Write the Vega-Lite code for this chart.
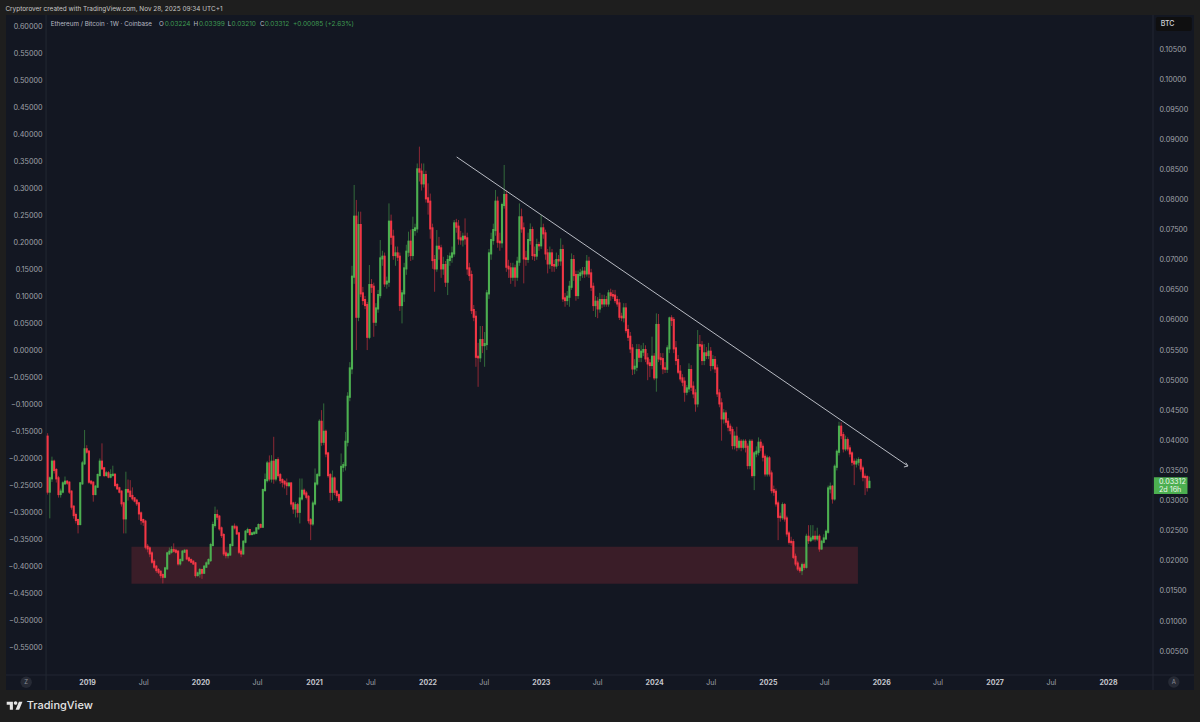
{
  "$schema": "https://vega.github.io/schema/vega-lite/v6.json",
  "autosize": "none",
  "width": 1188,
  "height": 675,
  "padding": {"left": 6, "top": 15, "right": 6, "bottom": 32},
  "background": "#1e1e1e",
  "view": {"fill": "#131722", "stroke": null},
  "config": {"font": "Inter", "text": {"font": "Inter"}},
  "datasets": {
    "candles": [
      {"t":"2018-08-27","o":0.04062,"h":0.0412,"l":0.0310,"c":0.03149},
      {"t":"2018-09-03","o":0.03149,"h":0.0340,"l":0.02705,"c":0.0337},
      {"t":"2018-09-10","o":0.0337,"h":0.0373,"l":0.0331,"c":0.03647},
      {"t":"2018-09-17","o":0.03647,"h":0.0368,"l":0.0345,"c":0.03508},
      {"t":"2018-09-24","o":0.03508,"h":0.0354,"l":0.0330,"c":0.0337},
      {"t":"2018-10-01","o":0.0337,"h":0.0341,"l":0.0305,"c":0.03109},
      {"t":"2018-10-08","o":0.03109,"h":0.0320,"l":0.0305,"c":0.03149},
      {"t":"2018-10-15","o":0.03149,"h":0.0332,"l":0.0312,"c":0.03287},
      {"t":"2018-10-22","o":0.03287,"h":0.0340,"l":0.0326,"c":0.03314},
      {"t":"2018-10-29","o":0.03314,"h":0.0334,"l":0.0326,"c":0.03298},
      {"t":"2018-11-05","o":0.03298,"h":0.0332,"l":0.0311,"c":0.03149},
      {"t":"2018-11-12","o":0.03149,"h":0.0317,"l":0.0285,"c":0.02899},
      {"t":"2018-11-19","o":0.02899,"h":0.0292,"l":0.0270,"c":0.0276},
      {"t":"2018-11-26","o":0.0276,"h":0.0280,"l":0.0262,"c":0.02677},
      {"t":"2018-12-03","o":0.02677,"h":0.0270,"l":0.02455,"c":0.02611},
      {"t":"2018-12-10","o":0.02611,"h":0.0331,"l":0.0259,"c":0.03287},
      {"t":"2018-12-17","o":0.03287,"h":0.0366,"l":0.0326,"c":0.03619},
      {"t":"2018-12-24","o":0.03619,"h":0.04173,"l":0.0359,"c":0.03852},
      {"t":"2018-12-31","o":0.03852,"h":0.0392,"l":0.0378,"c":0.03813},
      {"t":"2019-01-07","o":0.03813,"h":0.0384,"l":0.0328,"c":0.03314},
      {"t":"2019-01-14","o":0.03314,"h":0.0334,"l":0.0326,"c":0.03298},
      {"t":"2019-01-21","o":0.03298,"h":0.0332,"l":0.02982,"c":0.03109},
      {"t":"2019-01-28","o":0.03109,"h":0.0326,"l":0.0309,"c":0.03231},
      {"t":"2019-02-04","o":0.03231,"h":0.0345,"l":0.0321,"c":0.03425},
      {"t":"2019-02-11","o":0.03425,"h":0.0370,"l":0.0340,"c":0.03647},
      {"t":"2019-02-18","o":0.03647,"h":0.03951,"l":0.0351,"c":0.03536},
      {"t":"2019-02-25","o":0.03536,"h":0.0356,"l":0.0339,"c":0.03425},
      {"t":"2019-03-04","o":0.03425,"h":0.0349,"l":0.0340,"c":0.03453},
      {"t":"2019-03-11","o":0.03453,"h":0.0349,"l":0.0337,"c":0.03398},
      {"t":"2019-03-18","o":0.03398,"h":0.0352,"l":0.0337,"c":0.03425},
      {"t":"2019-03-25","o":0.03425,"h":0.0358,"l":0.0340,"c":0.0343},
      {"t":"2019-04-01","o":0.0343,"h":0.0345,"l":0.0322,"c":0.03259},
      {"t":"2019-04-08","o":0.03259,"h":0.0329,"l":0.0318,"c":0.03204},
      {"t":"2019-04-15","o":0.03204,"h":0.0323,"l":0.0312,"c":0.03149},
      {"t":"2019-04-22","o":0.03149,"h":0.0317,"l":0.0290,"c":0.02955},
      {"t":"2019-04-29","o":0.02955,"h":0.0298,"l":0.02455,"c":0.02705},
      {"t":"2019-05-06","o":0.02705,"h":0.0348,"l":0.02455,"c":0.03176},
      {"t":"2019-05-13","o":0.03176,"h":0.0335,"l":0.0300,"c":0.03149},
      {"t":"2019-05-20","o":0.03149,"h":0.0334,"l":0.0305,"c":0.03077},
      {"t":"2019-05-27","o":0.03077,"h":0.0322,"l":0.0300,"c":0.03038},
      {"t":"2019-06-03","o":0.03038,"h":0.0306,"l":0.0297,"c":0.03},
      {"t":"2019-06-10","o":0.03,"h":0.0303,"l":0.0291,"c":0.02955},
      {"t":"2019-06-17","o":0.02955,"h":0.0298,"l":0.0268,"c":0.02788},
      {"t":"2019-06-24","o":0.02788,"h":0.0282,"l":0.0260,"c":0.02677},
      {"t":"2019-07-01","o":0.02677,"h":0.0270,"l":0.0258,"c":0.0265},
      {"t":"2019-07-08","o":0.0265,"h":0.0268,"l":0.0219,"c":0.02234},
      {"t":"2019-07-15","o":0.02234,"h":0.0228,"l":0.0214,"c":0.02206},
      {"t":"2019-07-22","o":0.02206,"h":0.0224,"l":0.0206,"c":0.02123},
      {"t":"2019-07-29","o":0.02123,"h":0.0216,"l":0.0195,"c":0.01985},
      {"t":"2019-08-05","o":0.01985,"h":0.0203,"l":0.0186,"c":0.01902},
      {"t":"2019-08-12","o":0.01902,"h":0.0193,"l":0.0180,"c":0.01846},
      {"t":"2019-08-19","o":0.01846,"h":0.0188,"l":0.0178,"c":0.01818},
      {"t":"2019-08-26","o":0.01818,"h":0.0184,"l":0.0171,"c":0.01763},
      {"t":"2019-09-02","o":0.01763,"h":0.0179,"l":0.01624,"c":0.01735},
      {"t":"2019-09-09","o":0.01735,"h":0.0190,"l":0.0171,"c":0.01874},
      {"t":"2019-09-16","o":0.01874,"h":0.0215,"l":0.0185,"c":0.02123},
      {"t":"2019-09-23","o":0.02123,"h":0.0222,"l":0.0210,"c":0.02151},
      {"t":"2019-09-30","o":0.02151,"h":0.0224,"l":0.0212,"c":0.02178},
      {"t":"2019-10-07","o":0.02178,"h":0.0229,"l":0.0214,"c":0.02167},
      {"t":"2019-10-14","o":0.02167,"h":0.0220,"l":0.0212,"c":0.02151},
      {"t":"2019-10-21","o":0.02151,"h":0.0218,"l":0.0192,"c":0.01957},
      {"t":"2019-10-28","o":0.01957,"h":0.0204,"l":0.0192,"c":0.02012},
      {"t":"2019-11-04","o":0.02012,"h":0.0218,"l":0.0199,"c":0.02151},
      {"t":"2019-11-11","o":0.02151,"h":0.0219,"l":0.0213,"c":0.02167},
      {"t":"2019-11-18","o":0.02167,"h":0.0219,"l":0.0201,"c":0.0204},
      {"t":"2019-11-25","o":0.0204,"h":0.0207,"l":0.0198,"c":0.02012},
      {"t":"2019-12-02","o":0.02012,"h":0.0204,"l":0.0196,"c":0.01985},
      {"t":"2019-12-09","o":0.01985,"h":0.0201,"l":0.0193,"c":0.01957},
      {"t":"2019-12-16","o":0.01957,"h":0.0198,"l":0.0172,"c":0.01763},
      {"t":"2019-12-23","o":0.01763,"h":0.0182,"l":0.0174,"c":0.01791},
      {"t":"2019-12-30","o":0.01791,"h":0.0188,"l":0.0172,"c":0.01846},
      {"t":"2020-01-06","o":0.01846,"h":0.0187,"l":0.0170,"c":0.01802},
      {"t":"2020-01-13","o":0.01802,"h":0.0193,"l":0.0178,"c":0.01902},
      {"t":"2020-01-20","o":0.01902,"h":0.0199,"l":0.0188,"c":0.01957},
      {"t":"2020-01-27","o":0.01957,"h":0.0204,"l":0.0194,"c":0.02012},
      {"t":"2020-02-03","o":0.02012,"h":0.0230,"l":0.0198,"c":0.02262},
      {"t":"2020-02-10","o":0.02262,"h":0.0265,"l":0.0224,"c":0.02594},
      {"t":"2020-02-17","o":0.02594,"h":0.0290,"l":0.0255,"c":0.0276},
      {"t":"2020-02-24","o":0.0276,"h":0.0285,"l":0.0268,"c":0.02733},
      {"t":"2020-03-02","o":0.02733,"h":0.0276,"l":0.0250,"c":0.02539},
      {"t":"2020-03-09","o":0.02539,"h":0.0257,"l":0.0238,"c":0.02428},
      {"t":"2020-03-16","o":0.02428,"h":0.0246,"l":0.0208,"c":0.02123},
      {"t":"2020-03-23","o":0.02123,"h":0.0217,"l":0.0204,"c":0.02095},
      {"t":"2020-03-30","o":0.02095,"h":0.0214,"l":0.0204,"c":0.02106},
      {"t":"2020-04-06","o":0.02106,"h":0.0229,"l":0.0208,"c":0.02262},
      {"t":"2020-04-13","o":0.02262,"h":0.0258,"l":0.0224,"c":0.02566},
      {"t":"2020-04-20","o":0.02566,"h":0.0262,"l":0.0252,"c":0.02555},
      {"t":"2020-04-27","o":0.02555,"h":0.0259,"l":0.0243,"c":0.02455},
      {"t":"2020-05-04","o":0.02455,"h":0.0248,"l":0.0211,"c":0.02151},
      {"t":"2020-05-11","o":0.02151,"h":0.0220,"l":0.0206,"c":0.02123},
      {"t":"2020-05-18","o":0.02123,"h":0.0234,"l":0.0210,"c":0.02317},
      {"t":"2020-05-25","o":0.02317,"h":0.0251,"l":0.0229,"c":0.02483},
      {"t":"2020-06-01","o":0.02483,"h":0.0255,"l":0.0246,"c":0.02511},
      {"t":"2020-06-08","o":0.02511,"h":0.0253,"l":0.0242,"c":0.02444},
      {"t":"2020-06-15","o":0.02444,"h":0.0248,"l":0.0243,"c":0.02455},
      {"t":"2020-06-22","o":0.02455,"h":0.0249,"l":0.0245,"c":0.02466},
      {"t":"2020-06-29","o":0.02466,"h":0.0256,"l":0.0245,"c":0.02539},
      {"t":"2020-07-06","o":0.02539,"h":0.0262,"l":0.0252,"c":0.02594},
      {"t":"2020-07-13","o":0.02594,"h":0.0262,"l":0.0254,"c":0.02566},
      {"t":"2020-07-20","o":0.02566,"h":0.0320,"l":0.0255,"c":0.03174},
      {"t":"2020-07-27","o":0.03174,"h":0.0345,"l":0.0315,"c":0.0334},
      {"t":"2020-08-03","o":0.0334,"h":0.0366,"l":0.0330,"c":0.03617},
      {"t":"2020-08-10","o":0.03617,"h":0.0375,"l":0.0332,"c":0.03367},
      {"t":"2020-08-17","o":0.03367,"h":0.03755,"l":0.0330,"c":0.03645},
      {"t":"2020-08-24","o":0.03645,"h":0.0406,"l":0.0328,"c":0.03367},
      {"t":"2020-08-31","o":0.03367,"h":0.0369,"l":0.0332,"c":0.03672},
      {"t":"2020-09-07","o":0.03672,"h":0.0372,"l":0.0338,"c":0.03423},
      {"t":"2020-09-14","o":0.03423,"h":0.0346,"l":0.0328,"c":0.0334},
      {"t":"2020-09-21","o":0.0334,"h":0.0337,"l":0.0322,"c":0.03312},
      {"t":"2020-09-28","o":0.03312,"h":0.0334,"l":0.0320,"c":0.03284},
      {"t":"2020-10-05","o":0.03284,"h":0.03367,"l":0.03091,"c":0.03257},
      {"t":"2020-10-12","o":0.03257,"h":0.0330,"l":0.0322,"c":0.03284},
      {"t":"2020-10-19","o":0.03284,"h":0.0331,"l":0.0290,"c":0.02952},
      {"t":"2020-10-26","o":0.02952,"h":0.0298,"l":0.0278,"c":0.02869},
      {"t":"2020-11-02","o":0.02869,"h":0.0298,"l":0.0272,"c":0.02924},
      {"t":"2020-11-09","o":0.02924,"h":0.0296,"l":0.0272,"c":0.02814},
      {"t":"2020-11-16","o":0.02814,"h":0.03367,"l":0.0262,"c":0.03035},
      {"t":"2020-11-23","o":0.03035,"h":0.03367,"l":0.0300,"c":0.03163},
      {"t":"2020-11-30","o":0.03163,"h":0.0320,"l":0.0308,"c":0.03118},
      {"t":"2020-12-07","o":0.03118,"h":0.0316,"l":0.0302,"c":0.03063},
      {"t":"2020-12-14","o":0.03063,"h":0.0309,"l":0.0262,"c":0.02675},
      {"t":"2020-12-21","o":0.02675,"h":0.0271,"l":0.02343,"c":0.0262},
      {"t":"2020-12-28","o":0.0262,"h":0.0300,"l":0.0258,"c":0.02952},
      {"t":"2021-01-04","o":0.02952,"h":0.03534,"l":0.0292,"c":0.03284},
      {"t":"2021-01-11","o":0.03284,"h":0.0346,"l":0.0325,"c":0.03423},
      {"t":"2021-01-18","o":0.03423,"h":0.0435,"l":0.0340,"c":0.04309},
      {"t":"2021-01-25","o":0.04309,"h":0.04503,"l":0.0391,"c":0.03977},
      {"t":"2021-02-01","o":0.03977,"h":0.04614,"l":0.0392,"c":0.04143},
      {"t":"2021-02-08","o":0.04143,"h":0.0418,"l":0.0372,"c":0.03783},
      {"t":"2021-02-15","o":0.03783,"h":0.0381,"l":0.0338,"c":0.03423},
      {"t":"2021-02-22","o":0.03423,"h":0.0346,"l":0.0300,"c":0.03146},
      {"t":"2021-03-01","o":0.03146,"h":0.0350,"l":0.03008,"c":0.03367},
      {"t":"2021-03-08","o":0.03367,"h":0.0340,"l":0.0309,"c":0.03146},
      {"t":"2021-03-15","o":0.03146,"h":0.0318,"l":0.0304,"c":0.03091},
      {"t":"2021-03-22","o":0.03091,"h":0.0312,"l":0.0296,"c":0.03008},
      {"t":"2021-03-29","o":0.03008,"h":0.03783,"l":0.02978,"c":0.03561},
      {"t":"2021-04-05","o":0.03561,"h":0.0364,"l":0.03478,"c":0.03589},
      {"t":"2021-04-12","o":0.03589,"h":0.0414,"l":0.0350,"c":0.03977},
      {"t":"2021-04-19","o":0.03977,"h":0.0480,"l":0.0390,"c":0.04725},
      {"t":"2021-04-26","o":0.04725,"h":0.0530,"l":0.0465,"c":0.05196},
      {"t":"2021-05-03","o":0.05196,"h":0.0690,"l":0.0510,"c":0.06719},
      {"t":"2021-05-10","o":0.06719,"h":0.08243,"l":0.0660,"c":0.07716},
      {"t":"2021-05-17","o":0.07716,"h":0.07994,"l":0.0550,"c":0.06054},
      {"t":"2021-05-24","o":0.06054,"h":0.0780,"l":0.0598,"c":0.07577},
      {"t":"2021-05-31","o":0.07577,"h":0.07799,"l":0.0638,"c":0.06442},
      {"t":"2021-06-07","o":0.06442,"h":0.0655,"l":0.0625,"c":0.06331},
      {"t":"2021-06-14","o":0.06331,"h":0.0640,"l":0.0618,"c":0.06248},
      {"t":"2021-06-21","o":0.06248,"h":0.0630,"l":0.0550,"c":0.05721},
      {"t":"2021-06-28","o":0.05721,"h":0.06913,"l":0.0568,"c":0.0658},
      {"t":"2021-07-05","o":0.0658,"h":0.0668,"l":0.0645,"c":0.06552},
      {"t":"2021-07-12","o":0.06552,"h":0.0662,"l":0.05721,"c":0.05971},
      {"t":"2021-07-19","o":0.05971,"h":0.0628,"l":0.0590,"c":0.06192},
      {"t":"2021-07-26","o":0.06192,"h":0.0650,"l":0.0612,"c":0.06414},
      {"t":"2021-08-02","o":0.06414,"h":0.07328,"l":0.0636,"c":0.07023},
      {"t":"2021-08-09","o":0.07023,"h":0.0715,"l":0.0690,"c":0.07051},
      {"t":"2021-08-16","o":0.07051,"h":0.0712,"l":0.0655,"c":0.06608},
      {"t":"2021-08-23","o":0.06608,"h":0.0672,"l":0.0652,"c":0.06636},
      {"t":"2021-08-30","o":0.06636,"h":0.07937,"l":0.0655,"c":0.07633},
      {"t":"2021-09-06","o":0.07633,"h":0.0775,"l":0.0725,"c":0.07383},
      {"t":"2021-09-13","o":0.07383,"h":0.0750,"l":0.0700,"c":0.07079},
      {"t":"2021-09-20","o":0.07079,"h":0.0722,"l":0.0690,"c":0.07106},
      {"t":"2021-09-27","o":0.07106,"h":0.0722,"l":0.0698,"c":0.07051},
      {"t":"2021-10-04","o":0.07051,"h":0.0712,"l":0.0615,"c":0.06248},
      {"t":"2021-10-11","o":0.06248,"h":0.0650,"l":0.05943,"c":0.06442},
      {"t":"2021-10-18","o":0.06442,"h":0.0695,"l":0.0630,"c":0.06857},
      {"t":"2021-10-25","o":0.06857,"h":0.0725,"l":0.0675,"c":0.07134},
      {"t":"2021-11-01","o":0.07134,"h":0.07467,"l":0.0705,"c":0.073},
      {"t":"2021-11-08","o":0.073,"h":0.0750,"l":0.0698,"c":0.07079},
      {"t":"2021-11-15","o":0.07079,"h":0.07716,"l":0.0700,"c":0.07494},
      {"t":"2021-11-22","o":0.07494,"h":0.0760,"l":0.0740,"c":0.07522},
      {"t":"2021-11-29","o":0.07522,"h":0.0860,"l":0.0745,"c":0.08502},
      {"t":"2021-12-06","o":0.08502,"h":0.08879,"l":0.0830,"c":0.08464},
      {"t":"2021-12-13","o":0.08464,"h":0.0860,"l":0.0815,"c":0.0827},
      {"t":"2021-12-20","o":0.0827,"h":0.0860,"l":0.0820,"c":0.08408},
      {"t":"2021-12-27","o":0.08408,"h":0.0848,"l":0.0795,"c":0.08021},
      {"t":"2022-01-03","o":0.08021,"h":0.0827,"l":0.0775,"c":0.07965},
      {"t":"2022-01-10","o":0.07965,"h":0.0810,"l":0.0735,"c":0.07522},
      {"t":"2022-01-17","o":0.07522,"h":0.0760,"l":0.0685,"c":0.06996},
      {"t":"2022-01-24","o":0.06996,"h":0.0708,"l":0.06469,"c":0.06857},
      {"t":"2022-01-31","o":0.06857,"h":0.07494,"l":0.0680,"c":0.07217},
      {"t":"2022-02-07","o":0.07217,"h":0.0738,"l":0.0700,"c":0.0719},
      {"t":"2022-02-14","o":0.0719,"h":0.0725,"l":0.0670,"c":0.06857},
      {"t":"2022-02-21","o":0.06857,"h":0.0705,"l":0.0675,"c":0.06913},
      {"t":"2022-02-28","o":0.06913,"h":0.0698,"l":0.0655,"c":0.06636},
      {"t":"2022-03-07","o":0.06636,"h":0.0708,"l":0.06414,"c":0.06996},
      {"t":"2022-03-14","o":0.06996,"h":0.0712,"l":0.0690,"c":0.07051},
      {"t":"2022-03-21","o":0.07051,"h":0.0722,"l":0.0695,"c":0.07106},
      {"t":"2022-03-28","o":0.07106,"h":0.0766,"l":0.0705,"c":0.07605},
      {"t":"2022-04-04","o":0.07605,"h":0.0768,"l":0.0745,"c":0.0755},
      {"t":"2022-04-11","o":0.0755,"h":0.07660,"l":0.0725,"c":0.07356},
      {"t":"2022-04-18","o":0.07356,"h":0.0748,"l":0.0725,"c":0.07339},
      {"t":"2022-04-25","o":0.07339,"h":0.0745,"l":0.0722,"c":0.07383},
      {"t":"2022-05-02","o":0.07383,"h":0.07688,"l":0.0725,"c":0.07356},
      {"t":"2022-05-09","o":0.07356,"h":0.0745,"l":0.0675,"c":0.06857},
      {"t":"2022-05-16","o":0.06857,"h":0.0695,"l":0.0665,"c":0.06746},
      {"t":"2022-05-23","o":0.06746,"h":0.0682,"l":0.0610,"c":0.06165},
      {"t":"2022-05-30","o":0.06165,"h":0.0625,"l":0.0598,"c":0.06054},
      {"t":"2022-06-06","o":0.06054,"h":0.0615,"l":0.05223,"c":0.05389},
      {"t":"2022-06-13","o":0.05389,"h":0.0562,"l":0.0489,"c":0.0538},
      {"t":"2022-06-20","o":0.0538,"h":0.0590,"l":0.0530,"c":0.05666},
      {"t":"2022-06-27","o":0.05666,"h":0.0590,"l":0.0545,"c":0.05583},
      {"t":"2022-07-04","o":0.05583,"h":0.0580,"l":0.05223,"c":0.056},
      {"t":"2022-07-11","o":0.056,"h":0.0650,"l":0.0550,"c":0.06442},
      {"t":"2022-07-18","o":0.06442,"h":0.0718,"l":0.0635,"c":0.07106},
      {"t":"2022-07-25","o":0.07106,"h":0.0745,"l":0.0700,"c":0.07328},
      {"t":"2022-08-01","o":0.07328,"h":0.0760,"l":0.0725,"c":0.07494},
      {"t":"2022-08-08","o":0.07494,"h":0.08159,"l":0.0740,"c":0.07965},
      {"t":"2022-08-15","o":0.07965,"h":0.0805,"l":0.0720,"c":0.073},
      {"t":"2022-08-22","o":0.073,"h":0.0745,"l":0.0715,"c":0.0729},
      {"t":"2022-08-29","o":0.0729,"h":0.0795,"l":0.0720,"c":0.0791},
      {"t":"2022-09-05","o":0.0791,"h":0.08575,"l":0.0785,"c":0.08076},
      {"t":"2022-09-12","o":0.08076,"h":0.0815,"l":0.0680,"c":0.06885},
      {"t":"2022-09-19","o":0.06885,"h":0.0700,"l":0.0670,"c":0.06857},
      {"t":"2022-09-26","o":0.06857,"h":0.0695,"l":0.0660,"c":0.06719},
      {"t":"2022-10-03","o":0.06719,"h":0.0695,"l":0.0665,"c":0.06857},
      {"t":"2022-10-10","o":0.06857,"h":0.0692,"l":0.06552,"c":0.06719},
      {"t":"2022-10-17","o":0.06719,"h":0.0705,"l":0.0665,"c":0.06968},
      {"t":"2022-10-24","o":0.06968,"h":0.07937,"l":0.0690,"c":0.07705},
      {"t":"2022-10-31","o":0.07705,"h":0.0785,"l":0.0745,"c":0.07522},
      {"t":"2022-11-07","o":0.07522,"h":0.0762,"l":0.06608,"c":0.07023},
      {"t":"2022-11-14","o":0.07023,"h":0.0715,"l":0.0690,"c":0.07015},
      {"t":"2022-11-21","o":0.07015,"h":0.0745,"l":0.0695,"c":0.07328},
      {"t":"2022-11-28","o":0.07328,"h":0.07605,"l":0.0725,"c":0.07494},
      {"t":"2022-12-05","o":0.07494,"h":0.0755,"l":0.0700,"c":0.07079},
      {"t":"2022-12-12","o":0.07079,"h":0.0722,"l":0.0698,"c":0.0707},
      {"t":"2022-12-19","o":0.0707,"h":0.0735,"l":0.0700,"c":0.07245},
      {"t":"2022-12-26","o":0.07245,"h":0.0730,"l":0.0715,"c":0.0724},
      {"t":"2023-01-02","o":0.0724,"h":0.07743,"l":0.0718,"c":0.07522},
      {"t":"2023-01-09","o":0.07522,"h":0.0760,"l":0.0735,"c":0.07439},
      {"t":"2023-01-16","o":0.07439,"h":0.0750,"l":0.0700,"c":0.07106},
      {"t":"2023-01-23","o":0.07106,"h":0.0718,"l":0.06774,"c":0.0694},
      {"t":"2023-01-30","o":0.0694,"h":0.0722,"l":0.0685,"c":0.07106},
      {"t":"2023-02-06","o":0.07106,"h":0.0718,"l":0.0680,"c":0.06913},
      {"t":"2023-02-13","o":0.06913,"h":0.0700,"l":0.0680,"c":0.06905},
      {"t":"2023-02-20","o":0.06905,"h":0.0712,"l":0.0685,"c":0.06996},
      {"t":"2023-02-27","o":0.06996,"h":0.0708,"l":0.0690,"c":0.0699},
      {"t":"2023-03-06","o":0.0699,"h":0.07356,"l":0.0690,"c":0.07162},
      {"t":"2023-03-13","o":0.07162,"h":0.0725,"l":0.0630,"c":0.06359},
      {"t":"2023-03-20","o":0.06359,"h":0.0645,"l":0.0622,"c":0.06331},
      {"t":"2023-03-27","o":0.06331,"h":0.0648,"l":0.0625,"c":0.06386},
      {"t":"2023-04-03","o":0.06386,"h":0.0665,"l":0.0622,"c":0.06552},
      {"t":"2023-04-10","o":0.06552,"h":0.07106,"l":0.0650,"c":0.06996},
      {"t":"2023-04-17","o":0.06996,"h":0.0708,"l":0.0665,"c":0.06746},
      {"t":"2023-04-24","o":0.06746,"h":0.0682,"l":0.0632,"c":0.06414},
      {"t":"2023-05-01","o":0.06414,"h":0.0682,"l":0.0635,"c":0.06746},
      {"t":"2023-05-08","o":0.06746,"h":0.0685,"l":0.0665,"c":0.06774},
      {"t":"2023-05-15","o":0.06774,"h":0.0688,"l":0.0670,"c":0.06802},
      {"t":"2023-05-22","o":0.06802,"h":0.0688,"l":0.0670,"c":0.06774},
      {"t":"2023-05-29","o":0.06774,"h":0.07079,"l":0.0672,"c":0.06968},
      {"t":"2023-06-05","o":0.06968,"h":0.0705,"l":0.0670,"c":0.06774},
      {"t":"2023-06-12","o":0.06774,"h":0.0685,"l":0.0648,"c":0.06552},
      {"t":"2023-06-19","o":0.06552,"h":0.0662,"l":0.0615,"c":0.06248},
      {"t":"2023-06-26","o":0.06248,"h":0.0640,"l":0.0605,"c":0.06303},
      {"t":"2023-07-03","o":0.06303,"h":0.0638,"l":0.0603,"c":0.06192},
      {"t":"2023-07-10","o":0.06192,"h":0.0645,"l":0.0612,"c":0.06331},
      {"t":"2023-07-17","o":0.06331,"h":0.0642,"l":0.0620,"c":0.06275},
      {"t":"2023-07-24","o":0.06275,"h":0.0642,"l":0.0622,"c":0.06331},
      {"t":"2023-07-31","o":0.06331,"h":0.0640,"l":0.0622,"c":0.06275},
      {"t":"2023-08-07","o":0.06275,"h":0.0650,"l":0.0622,"c":0.06442},
      {"t":"2023-08-14","o":0.06442,"h":0.0652,"l":0.0632,"c":0.06414},
      {"t":"2023-08-21","o":0.06414,"h":0.0650,"l":0.0635,"c":0.06405},
      {"t":"2023-08-28","o":0.06405,"h":0.0650,"l":0.0628,"c":0.06331},
      {"t":"2023-09-04","o":0.06331,"h":0.0640,"l":0.0622,"c":0.06275},
      {"t":"2023-09-11","o":0.06275,"h":0.0635,"l":0.0600,"c":0.06054},
      {"t":"2023-09-18","o":0.06054,"h":0.0612,"l":0.0598,"c":0.06045},
      {"t":"2023-09-25","o":0.06045,"h":0.0628,"l":0.0596,"c":0.06192},
      {"t":"2023-10-02","o":0.06192,"h":0.0628,"l":0.0578,"c":0.05832},
      {"t":"2023-10-09","o":0.05832,"h":0.0592,"l":0.0565,"c":0.05721},
      {"t":"2023-10-16","o":0.05721,"h":0.0580,"l":0.0545,"c":0.05528},
      {"t":"2023-10-23","o":0.05528,"h":0.0560,"l":0.05085,"c":0.05195},
      {"t":"2023-10-30","o":0.05195,"h":0.0535,"l":0.0510,"c":0.05223},
      {"t":"2023-11-06","o":0.05223,"h":0.0560,"l":0.0515,"c":0.055},
      {"t":"2023-11-13","o":0.055,"h":0.0560,"l":0.0530,"c":0.05389},
      {"t":"2023-11-20","o":0.05389,"h":0.0558,"l":0.0530,"c":0.05473},
      {"t":"2023-11-27","o":0.05473,"h":0.0562,"l":0.0540,"c":0.05501},
      {"t":"2023-12-04","o":0.05501,"h":0.0558,"l":0.0530,"c":0.05362},
      {"t":"2023-12-11","o":0.05362,"h":0.0545,"l":0.0500,"c":0.05279},
      {"t":"2023-12-18","o":0.05279,"h":0.0535,"l":0.0505,"c":0.05252},
      {"t":"2023-12-25","o":0.05252,"h":0.05723,"l":0.0518,"c":0.0539},
      {"t":"2024-01-01","o":0.0539,"h":0.0545,"l":0.0500,"c":0.05047},
      {"t":"2024-01-08","o":0.05047,"h":0.0611,"l":0.04809,"c":0.05917},
      {"t":"2024-01-15","o":0.05917,"h":0.0610,"l":0.0530,"c":0.05362},
      {"t":"2024-01-22","o":0.05362,"h":0.0545,"l":0.0525,"c":0.0535},
      {"t":"2024-01-29","o":0.0535,"h":0.0545,"l":0.0510,"c":0.05196},
      {"t":"2024-02-05","o":0.05196,"h":0.0530,"l":0.0512,"c":0.0519},
      {"t":"2024-02-12","o":0.0519,"h":0.0558,"l":0.0512,"c":0.05529},
      {"t":"2024-02-19","o":0.05529,"h":0.06055,"l":0.0545,"c":0.06027},
      {"t":"2024-02-26","o":0.06027,"h":0.0608,"l":0.0590,"c":0.06},
      {"t":"2024-03-04","o":0.06,"h":0.0605,"l":0.0545,"c":0.05529},
      {"t":"2024-03-11","o":0.05529,"h":0.0565,"l":0.0525,"c":0.05335},
      {"t":"2024-03-18","o":0.05335,"h":0.0542,"l":0.0510,"c":0.05141},
      {"t":"2024-03-25","o":0.05141,"h":0.0525,"l":0.0498,"c":0.0503},
      {"t":"2024-04-01","o":0.0503,"h":0.0510,"l":0.0490,"c":0.04975},
      {"t":"2024-04-08","o":0.04975,"h":0.0505,"l":0.04642,"c":0.04809},
      {"t":"2024-04-15","o":0.04809,"h":0.0492,"l":0.0475,"c":0.04864},
      {"t":"2024-04-22","o":0.04864,"h":0.0528,"l":0.0480,"c":0.05169},
      {"t":"2024-04-29","o":0.05169,"h":0.0525,"l":0.0482,"c":0.04892},
      {"t":"2024-05-06","o":0.04892,"h":0.0498,"l":0.0470,"c":0.04781},
      {"t":"2024-05-13","o":0.04781,"h":0.0485,"l":0.04476,"c":0.04615},
      {"t":"2024-05-20","o":0.04615,"h":0.05833,"l":0.0455,"c":0.05584},
      {"t":"2024-05-27","o":0.05584,"h":0.0575,"l":0.0550,"c":0.05575},
      {"t":"2024-06-03","o":0.05575,"h":0.0565,"l":0.0525,"c":0.05335},
      {"t":"2024-06-10","o":0.05335,"h":0.0560,"l":0.0525,"c":0.05446},
      {"t":"2024-06-17","o":0.05446,"h":0.0555,"l":0.0535,"c":0.05418},
      {"t":"2024-06-24","o":0.05418,"h":0.0562,"l":0.0535,"c":0.05473},
      {"t":"2024-07-01","o":0.05473,"h":0.0555,"l":0.0515,"c":0.05252},
      {"t":"2024-07-08","o":0.05252,"h":0.0542,"l":0.0518,"c":0.05335},
      {"t":"2024-07-15","o":0.05335,"h":0.0540,"l":0.0512,"c":0.05196},
      {"t":"2024-07-22","o":0.05196,"h":0.0526,"l":0.0472,"c":0.04781},
      {"t":"2024-07-29","o":0.04781,"h":0.0485,"l":0.0455,"c":0.04615},
      {"t":"2024-08-05","o":0.04615,"h":0.0470,"l":0.03995,"c":0.04365},
      {"t":"2024-08-12","o":0.04365,"h":0.0452,"l":0.0428,"c":0.04448},
      {"t":"2024-08-19","o":0.04448,"h":0.0450,"l":0.0425,"c":0.0431},
      {"t":"2024-08-26","o":0.0431,"h":0.0437,"l":0.0415,"c":0.04227},
      {"t":"2024-09-02","o":0.04227,"h":0.0428,"l":0.0410,"c":0.04171},
      {"t":"2024-09-09","o":0.04171,"h":0.04227,"l":0.0385,"c":0.03922},
      {"t":"2024-09-16","o":0.03922,"h":0.0415,"l":0.0385,"c":0.04061},
      {"t":"2024-09-23","o":0.04061,"h":0.04227,"l":0.0382,"c":0.03894},
      {"t":"2024-09-30","o":0.03894,"h":0.0405,"l":0.0385,"c":0.03977},
      {"t":"2024-10-07","o":0.03977,"h":0.0402,"l":0.0382,"c":0.03894},
      {"t":"2024-10-14","o":0.03894,"h":0.0402,"l":0.0385,"c":0.03977},
      {"t":"2024-10-21","o":0.03977,"h":0.0402,"l":0.0380,"c":0.03894},
      {"t":"2024-10-28","o":0.03894,"h":0.0395,"l":0.0352,"c":0.0359},
      {"t":"2024-11-04","o":0.0359,"h":0.0402,"l":0.0352,"c":0.03977},
      {"t":"2024-11-11","o":0.03977,"h":0.0402,"l":0.0338,"c":0.03424},
      {"t":"2024-11-18","o":0.03424,"h":0.0382,"l":0.03174,"c":0.03784},
      {"t":"2024-11-25","o":0.03784,"h":0.0390,"l":0.0372,"c":0.03811},
      {"t":"2024-12-02","o":0.03811,"h":0.0405,"l":0.0375,"c":0.03961},
      {"t":"2024-12-09","o":0.03961,"h":0.0402,"l":0.0382,"c":0.03894},
      {"t":"2024-12-16","o":0.03894,"h":0.0395,"l":0.0365,"c":0.03728},
      {"t":"2024-12-23","o":0.03728,"h":0.0378,"l":0.0340,"c":0.03451},
      {"t":"2024-12-30","o":0.03451,"h":0.0375,"l":0.0340,"c":0.03701},
      {"t":"2025-01-06","o":0.03701,"h":0.03741,"l":0.0340,"c":0.03451},
      {"t":"2025-01-13","o":0.03451,"h":0.0350,"l":0.0312,"c":0.03174},
      {"t":"2025-01-20","o":0.03174,"h":0.0325,"l":0.0308,"c":0.03147},
      {"t":"2025-01-27","o":0.03147,"h":0.0320,"l":0.0290,"c":0.02953},
      {"t":"2025-02-03","o":0.02953,"h":0.0300,"l":0.02343,"c":0.02731},
      {"t":"2025-02-10","o":0.02731,"h":0.0280,"l":0.0265,"c":0.02725},
      {"t":"2025-02-17","o":0.02725,"h":0.0297,"l":0.0268,"c":0.02925},
      {"t":"2025-02-24","o":0.02925,"h":0.0296,"l":0.0265,"c":0.02703},
      {"t":"2025-03-03","o":0.02703,"h":0.0275,"l":0.0240,"c":0.02454},
      {"t":"2025-03-10","o":0.02454,"h":0.0250,"l":0.0227,"c":0.02316},
      {"t":"2025-03-17","o":0.02316,"h":0.0240,"l":0.0225,"c":0.0231},
      {"t":"2025-03-24","o":0.0231,"h":0.0236,"l":0.0203,"c":0.02066},
      {"t":"2025-03-31","o":0.02066,"h":0.0212,"l":0.0191,"c":0.01955},
      {"t":"2025-04-07","o":0.01955,"h":0.0200,"l":0.0183,"c":0.01872},
      {"t":"2025-04-14","o":0.01872,"h":0.0191,"l":0.0180,"c":0.01845},
      {"t":"2025-04-21","o":0.01845,"h":0.0197,"l":0.01762,"c":0.01928},
      {"t":"2025-04-28","o":0.01928,"h":0.0197,"l":0.0185,"c":0.019},
      {"t":"2025-05-05","o":0.019,"h":0.0245,"l":0.0187,"c":0.02399},
      {"t":"2025-05-12","o":0.02399,"h":0.02592,"l":0.0228,"c":0.02343},
      {"t":"2025-05-19","o":0.02343,"h":0.02592,"l":0.0231,"c":0.02371},
      {"t":"2025-05-26","o":0.02371,"h":0.02592,"l":0.0233,"c":0.02399},
      {"t":"2025-06-02","o":0.02399,"h":0.0250,"l":0.0232,"c":0.02371},
      {"t":"2025-06-09","o":0.02371,"h":0.0255,"l":0.0233,"c":0.02399},
      {"t":"2025-06-16","o":0.02399,"h":0.0244,"l":0.0215,"c":0.02205},
      {"t":"2025-06-23","o":0.02205,"h":0.0235,"l":0.0218,"c":0.02316},
      {"t":"2025-06-30","o":0.02316,"h":0.0244,"l":0.0229,"c":0.02371},
      {"t":"2025-07-07","o":0.02371,"h":0.0252,"l":0.0235,"c":0.02482},
      {"t":"2025-07-14","o":0.02482,"h":0.0325,"l":0.0245,"c":0.03202},
      {"t":"2025-07-21","o":0.03202,"h":0.0330,"l":0.0312,"c":0.0323},
      {"t":"2025-07-28","o":0.0323,"h":0.0326,"l":0.0295,"c":0.03036},
      {"t":"2025-08-04","o":0.03036,"h":0.0360,"l":0.0300,"c":0.03562},
      {"t":"2025-08-11","o":0.03562,"h":0.0385,"l":0.0350,"c":0.03811},
      {"t":"2025-08-18","o":0.03811,"h":0.0431,"l":0.0375,"c":0.04227},
      {"t":"2025-08-25","o":0.04227,"h":0.0430,"l":0.0402,"c":0.04088},
      {"t":"2025-09-01","o":0.04088,"h":0.0414,"l":0.0380,"c":0.03867},
      {"t":"2025-09-08","o":0.03867,"h":0.0408,"l":0.0382,"c":0.04005},
      {"t":"2025-09-15","o":0.04005,"h":0.0405,"l":0.0382,"c":0.03867},
      {"t":"2025-09-22","o":0.03867,"h":0.0392,"l":0.0372,"c":0.03784},
      {"t":"2025-09-29","o":0.03784,"h":0.0382,"l":0.0358,"c":0.03645},
      {"t":"2025-10-06","o":0.03645,"h":0.0370,"l":0.03257,"c":0.03617},
      {"t":"2025-10-13","o":0.03617,"h":0.0370,"l":0.0355,"c":0.03645},
      {"t":"2025-10-20","o":0.03645,"h":0.0372,"l":0.0358,"c":0.03673},
      {"t":"2025-10-27","o":0.03673,"h":0.0370,"l":0.0348,"c":0.03534},
      {"t":"2025-11-03","o":0.03534,"h":0.0358,"l":0.0332,"c":0.03396},
      {"t":"2025-11-10","o":0.03396,"h":0.0345,"l":0.03091,"c":0.0339},
      {"t":"2025-11-17","o":0.0339,"h":0.0342,"l":0.0315,"c":0.03224},
      {"t":"2025-11-24","o":0.03224,"h":0.03399,"l":0.0321,"c":0.03312}
    ]
  },
  "layer": [
    {
      "layer": [
        {
          "data": {"values": [{"t": "2019-05-24", "t2": "2025-10-18", "p": 0.02234, "p2": 0.0162}]},
          "mark": {"type": "rect", "color": "#3a1d28"},
          "encoding": {
            "x": {
              "field": "t",
              "type": "temporal",
              "scale": {"type": "utc", "domain": ["2018-04-15", "2028-10-04"]},
              "axis": {
                "orient": "bottom",
                "title": null,
                "grid": false,
                "domain": false,
                "ticks": false,
                "labelPadding": -8,
                "labelBaseline": "middle",
                "labelFontSize": 7,
                "labelFlush": false,
                "labelOverlap": false,
                "labelFontWeight": {"condition": {"test": "utcmonth(datum.value)==0", "value": 700}, "value": 400},
                "labelColor": {"condition": {"test": "utcmonth(datum.value)==0", "value": "#c4c6cc"}, "value": "#a0a3ab"},
                "labelExpr": "utcmonth(datum.value)==0 ? utcyear(datum.value) : 'Jul'",
                "values": ["2019-01-01","2019-07-01","2020-01-01","2020-07-01","2021-01-01","2021-07-01","2022-01-01","2022-07-01","2023-01-01","2023-07-01","2024-01-01","2024-07-01","2025-01-01","2025-07-01","2026-01-01","2026-07-01","2027-01-01","2027-07-01","2028-01-01"]
              }
            },
            "x2": {"field": "t2"},
            "y": {
              "field": "p",
              "type": "quantitative",
              "scale": {"domain": [-0.00146, 0.11066], "nice": false, "zero": false},
              "axis": null
            },
            "y2": {"field": "p2"}
          }
        },
        {
          "data": {"values": [{"t": "2018-08-22"}, {"t": "2028-05-25"}]},
          "mark": {"type": "rule", "color": "#232733", "size": 1},
          "encoding": {"x": {"field": "t", "type": "temporal"}}
        },
        {
          "data": {"values": [{"p": 0.00103}]},
          "mark": {"type": "rule", "color": "#232733", "size": 1},
          "encoding": {"y": {"field": "p", "type": "quantitative", "axis": null}}
        },
        {
          "data": {"name": "candles"},
          "mark": {"type": "rule", "size": 1, "opacity": 0.55},
          "encoding": {
            "x": {"field": "t", "type": "temporal"},
            "y": {"field": "h", "type": "quantitative", "axis": null},
            "y2": {"field": "l"},
            "color": {"condition": {"test": "datum.c>=datum.o", "value": "#4caf50"}, "value": "#f23645"}
          }
        },
        {
          "data": {"name": "candles"},
          "mark": {"type": "rule", "size": 2.1, "strokeCap": "square"},
          "encoding": {
            "x": {"field": "t", "type": "temporal"},
            "y": {"field": "o", "type": "quantitative", "axis": null},
            "y2": {"field": "c"},
            "color": {"condition": {"test": "datum.c>=datum.o", "value": "#4caf50"}, "value": "#f23645"}
          }
        },
        {
          "data": {"values": [
            {"t": "2022-04-05", "p": 0.08708, "t2": "2026-03-28", "p2": 0.03575},
            {"t": "2026-03-15", "p": 0.03558, "t2": "2026-03-28", "p2": 0.03575},
            {"t": "2026-03-21", "p": 0.0363, "t2": "2026-03-28", "p2": 0.03575}
          ]},
          "mark": {"type": "rule", "color": "#b9bcc4", "size": 1},
          "encoding": {
            "x": {"field": "t", "type": "temporal"},
            "x2": {"field": "t2"},
            "y": {"field": "p", "type": "quantitative", "axis": null},
            "y2": {"field": "p2"}
          }
        },
        {
          "data": {"values": [
            {"t": "2028-06-03", "t2": "2028-09-27", "p": 0.11033, "p2": 0.10801}
          ]},
          "mark": {"type": "rect", "color": "#0f0f10", "cornerRadius": 2},
          "encoding": {
            "x": {"field": "t", "type": "temporal"},
            "x2": {"field": "t2"},
            "y": {"field": "p", "type": "quantitative", "axis": null},
            "y2": {"field": "p2"}
          }
        },
        {
          "data": {"values": [
            {"t": "2028-05-28", "t2": "2028-09-13", "p": 0.03387, "p2": 0.0311}
          ]},
          "mark": {"type": "rect", "color": "#4caf50"},
          "encoding": {
            "x": {"field": "t", "type": "temporal"},
            "x2": {"field": "t2"},
            "y": {"field": "p", "type": "quantitative", "axis": null},
            "y2": {"field": "p2"}
          }
        },
        {
          "data": {"values": [
            {"t": "2018-06-19", "p": -0.00018},
            {"t": "2028-07-31", "p": -0.00013}
          ]},
          "mark": {"type": "point", "shape": "circle", "filled": true, "size": 130, "color": "#262a35", "opacity": 1},
          "encoding": {
            "x": {"field": "t", "type": "temporal"},
            "y": {"field": "p", "type": "quantitative", "axis": null}
          }
        },
        {
          "data": {"values": [
            {"t": "2018-06-19", "p": -0.00018, "s": "Z"},
            {"t": "2028-07-31", "p": -0.00013, "s": "A"}
          ]},
          "mark": {"type": "text", "fontSize": 6, "color": "#8a8d96", "align": "center", "baseline": "middle"},
          "encoding": {
            "x": {"field": "t", "type": "temporal"},
            "y": {"field": "p", "type": "quantitative", "axis": null},
            "text": {"field": "s"}
          }
        },
        {
          "data": {"values": [
            {"t": "2018-04-13", "p": 0.11158, "s": "Cryptorover created with TradingView.com, Nov 28, 2025 09:34 UTC+1"}
          ]},
          "mark": {"type": "text", "fontSize": 6.45, "color": "#c6c6c6", "align": "left", "baseline": "middle"},
          "encoding": {
            "x": {"field": "t", "type": "temporal"},
            "y": {"field": "p", "type": "quantitative", "axis": null},
            "text": {"field": "s"}
          }
        },
        {
          "data": {"values": [
            {"t": "2018-09-06", "p": 0.10912, "s": "Ethereum / Bitcoin · 1W · Coinbase"},
            {"t": "2019-08-21", "p": 0.10912, "s": "O"},
            {"t": "2019-12-10", "p": 0.10912, "s": "H"},
            {"t": "2020-03-29", "p": 0.10912, "s": "L"},
            {"t": "2020-07-11", "p": 0.10912, "s": "C"}
          ]},
          "mark": {"type": "text", "fontSize": 6.25, "color": "#b8bbc3", "align": "left", "baseline": "middle"},
          "encoding": {
            "x": {"field": "t", "type": "temporal"},
            "y": {"field": "p", "type": "quantitative", "axis": null},
            "text": {"field": "s"}
          }
        },
        {
          "data": {"values": [
            {"t": "2019-09-08", "p": 0.10912, "s": "0.03224"},
            {"t": "2019-12-27", "p": 0.10912, "s": "0.03399"},
            {"t": "2020-04-10", "p": 0.10912, "s": "0.03210"},
            {"t": "2020-07-26", "p": 0.10912, "s": "0.03312"},
            {"t": "2020-10-25", "p": 0.10912, "s": "+0.00085 (+2.63%)"}
          ]},
          "mark": {"type": "text", "fontSize": 6.5, "color": "#3f9c52", "align": "left", "baseline": "middle"},
          "encoding": {
            "x": {"field": "t", "type": "temporal"},
            "y": {"field": "p", "type": "quantitative", "axis": null},
            "text": {"field": "s"}
          }
        },
        {
          "data": {"values": [{"t": "2028-06-19", "p": 0.10917, "s": "BTC"}]},
          "mark": {"type": "text", "fontSize": 7, "fontWeight": 500, "color": "#d1d4dc", "align": "left", "baseline": "middle"},
          "encoding": {
            "x": {"field": "t", "type": "temporal"},
            "y": {"field": "p", "type": "quantitative", "axis": null},
            "text": {"field": "s"}
          }
        },
        {
          "data": {"values": [
            {"t": "2028-06-13", "p": 0.03309, "s": "0.03312"},
            {"t": "2028-06-13", "p": 0.03181, "s": "2d 16h"}
          ]},
          "mark": {"type": "text", "fontSize": 7.2, "color": "#eef7ee", "align": "left", "baseline": "middle"},
          "encoding": {
            "x": {"field": "t", "type": "temporal"},
            "y": {"field": "p", "type": "quantitative", "axis": null},
            "text": {"field": "s"}
          }
        },
        {
          "data": {"values": [{"t": "2018-06-21", "p": -0.00404, "s": "TradingView"}]},
          "mark": {"type": "text", "fontSize": 11, "fontWeight": 500, "color": "#e4e4e4", "align": "left", "baseline": "middle"},
          "encoding": {
            "x": {"field": "t", "type": "temporal"},
            "y": {"field": "p", "type": "quantitative", "axis": null},
            "text": {"field": "s"}
          }
        },
        {
          "data": {"values": [{"t": "2018-05-13", "p": -0.00392}]},
          "mark": {
            "type": "point",
            "filled": true,
            "opacity": 1,
            "size": 256,
            "color": "#e4e4e4",
            "shape": "M-.222 .611H-.611V0H-1V-.389H-.222ZM.556 .611H.111L.528 -.389H.972ZM-.111 -.222a.222 .222 0 1 0 .444 0a.222 .222 0 1 0 -.444 0Z"
          },
          "encoding": {
            "x": {"field": "t", "type": "temporal"},
            "y": {"field": "p", "type": "quantitative", "axis": null}
          }
        }
      ]
    },
    {
      "data": {"values": [{"v": 0.05}]},
      "mark": {"type": "point", "opacity": 0},
      "encoding": {
        "y": {
          "field": "v",
          "type": "quantitative",
          "scale": {"domain": [-0.00146, 0.11066], "nice": false, "zero": false},
          "axis": {
            "orient": "right",
            "title": null,
            "grid": false,
            "domain": false,
            "ticks": false,
            "labelPadding": -35,
            "labelAlign": "left",
            "labelFontSize": 7.2,
            "labelColor": "#a0a3ab",
            "labelOverlap": false,
            "format": ".5f",
            "values": [0.005,0.01,0.015,0.02,0.025,0.03,0.035,0.04,0.045,0.05,0.055,0.06,0.065,0.07,0.075,0.08,0.085,0.09,0.095,0.1,0.105]
          }
        }
      }
    },
    {
      "data": {"values": [{"v": 0}]},
      "mark": {"type": "point", "opacity": 0},
      "encoding": {
        "y": {
          "field": "v",
          "type": "quantitative",
          "scale": {"domain": [-0.62778, 0.62222], "nice": false, "zero": false},
          "axis": {
            "orient": "left",
            "title": null,
            "grid": false,
            "domain": false,
            "ticks": false,
            "labelPadding": -36,
            "labelAlign": "right",
            "labelFontSize": 7.2,
            "labelColor": "#a0a3ab",
            "labelOverlap": false,
            "format": ".5f",
            "values": [-0.55,-0.5,-0.45,-0.4,-0.35,-0.3,-0.25,-0.2,-0.15,-0.1,-0.05,0,0.05,0.1,0.15,0.2,0.25,0.3,0.35,0.4,0.45,0.5,0.55,0.6]
          }
        }
      }
    }
  ],
  "resolve": {"scale": {"y": "independent"}, "axis": {"y": "independent"}}
}
